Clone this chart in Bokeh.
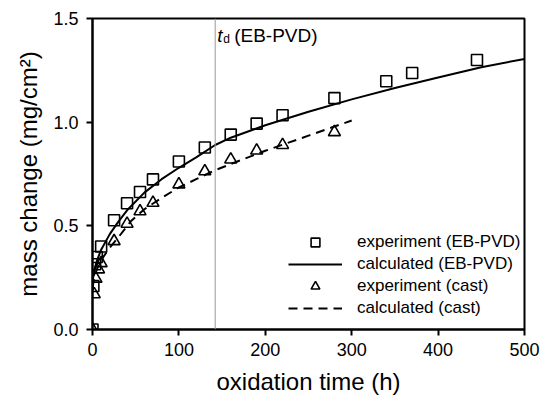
from bokeh.plotting import figure
from bokeh.models import Span, Label, Legend, LegendItem, FixedTicker, CustomJSTickFormatter
from bokeh.embed import file_html
from bokeh.resources import INLINE

# experimental data (EB-PVD)
ebpvd_t = [0, 1, 3, 5, 10, 25, 40, 55, 70, 100, 130, 160, 190, 220, 280, 340, 370, 445]
ebpvd_m = [0.0, 0.21, 0.315, 0.35, 0.40, 0.527, 0.609, 0.663, 0.724, 0.81, 0.878, 0.94, 0.993, 1.033, 1.116, 1.197, 1.237, 1.30]

# experimental data (cast)
cast_t = [0, 2, 4, 7, 10, 25, 40, 55, 70, 100, 130, 160, 190, 220, 280]
cast_m = [0.0, 0.17, 0.245, 0.29, 0.32, 0.426, 0.51, 0.57, 0.611, 0.70, 0.763, 0.82, 0.863, 0.89, 0.952]

# calculated curves
calc_ebpvd_t = [0, 1, 3, 5, 10, 20, 30, 40, 60, 80, 100, 120, 142, 160, 200, 250, 300, 350, 400, 450, 500]
calc_ebpvd_m = [0.22, 0.26, 0.30, 0.33, 0.385, 0.46, 0.52, 0.575, 0.66, 0.725, 0.78, 0.83, 0.89, 0.925, 0.985, 1.05, 1.11, 1.165, 1.215, 1.265, 1.305]

calc_cast_t = [0, 2, 5, 10, 20, 30, 45, 60, 80, 100, 120, 140, 160, 200, 250, 300]
calc_cast_m = [0.20, 0.25, 0.29, 0.335, 0.395, 0.445, 0.525, 0.58, 0.635, 0.685, 0.725, 0.765, 0.798, 0.862, 0.935, 1.008]

td_ebpvd = 142

x_ticks = [0, 100, 200, 300, 400, 500]
y_ticks = [0.0, 0.5, 1.0, 1.5]

FONT = "Liberation Sans"

p = figure(width=543, height=398, x_range=(0, 500), y_range=(0, 1.5),
           output_backend="svg", toolbar_location=None,
           min_border_left=92, min_border_right=19, min_border_top=18, min_border_bottom=69)
p.background_fill_color = "white"
p.border_fill_color = "white"
p.outline_line_color = "black"
p.outline_line_width = 2
p.xgrid.visible = False
p.ygrid.visible = False

for ax in (p.xaxis[0], p.yaxis[0]):
    ax.axis_line_width = 2
    ax.axis_line_color = "black"
    ax.major_tick_line_width = 2
    ax.major_tick_in = 0
    ax.major_tick_out = 6
    ax.minor_tick_line_color = None
    ax.major_label_text_font = FONT
    ax.major_label_text_font_size = "18px"
    ax.major_label_text_color = "black"
    ax.axis_label_text_font = FONT
    ax.axis_label_text_font_size = "24px"
    ax.axis_label_text_font_style = "normal"
    ax.axis_label_text_color = "black"

p.xaxis.ticker = FixedTicker(ticks=x_ticks)
p.yaxis.ticker = FixedTicker(ticks=y_ticks)
p.yaxis.formatter = CustomJSTickFormatter(code="return tick.toFixed(1);")
p.xaxis.major_label_standoff = 7
p.yaxis.major_label_standoff = 8
p.xaxis.axis_label = "oxidation time (h)"
p.yaxis.axis_label = "mass change (mg/cm²)"
p.xaxis.axis_label_standoff = 9
p.yaxis.axis_label_standoff = 8

vline = Span(location=td_ebpvd, dimension="height", line_color="#999999", line_width=1)
p.add_layout(vline)

r_calc_eb = p.line(calc_ebpvd_t, calc_ebpvd_m, line_color="black", line_width=2)
r_calc_cast = p.line(calc_cast_t, calc_cast_m, line_color="black", line_width=2, line_dash="9 6")
r_exp_eb = p.scatter(ebpvd_t, ebpvd_m, marker="square", size=11, fill_color="white", fill_alpha=0,
                     line_color="black", line_width=1.6)
r_exp_cast = p.scatter(cast_t, cast_m, marker="triangle", size=12, fill_color="white", fill_alpha=0,
                       line_color="black", line_width=1.6)

legend = Legend(items=[
    LegendItem(label="experiment (EB-PVD)", renderers=[r_exp_eb]),
    LegendItem(label="calculated (EB-PVD)", renderers=[r_calc_eb]),
    LegendItem(label="experiment (cast)", renderers=[r_exp_cast]),
    LegendItem(label="calculated (cast)", renderers=[r_calc_cast]),
], location=(196, 10))
legend.border_line_color = None
legend.background_fill_alpha = 0
legend.padding = 0
legend.margin = 0
legend.spacing = 0
legend.glyph_width = 54
legend.glyph_height = 22
legend.label_height = 22
legend.label_standoff = 15
legend.label_text_font = FONT
legend.label_text_font_size = "17px"
legend.label_text_color = "black"
p.add_layout(legend, "center")

lab_t = Label(x=td_ebpvd, y=1.5, x_offset=2, y_offset=-17, text="t", text_font=FONT,
              text_font_style="italic", text_font_size="19px", text_baseline="alphabetic", text_color="black")
lab_d = Label(x=td_ebpvd, y=1.5, x_offset=8, y_offset=-20, text="d", text_font=FONT,
              text_font_size="12px", text_baseline="alphabetic", text_color="black")
lab_rest = Label(x=td_ebpvd, y=1.5, x_offset=19, y_offset=-17, text="(EB-PVD)", text_font=FONT,
                 text_font_size="19px", text_baseline="alphabetic", text_color="black")
for l in (lab_t, lab_d, lab_rest):
    p.add_layout(l)

open("out.html", "w").write(file_html(p, INLINE))
